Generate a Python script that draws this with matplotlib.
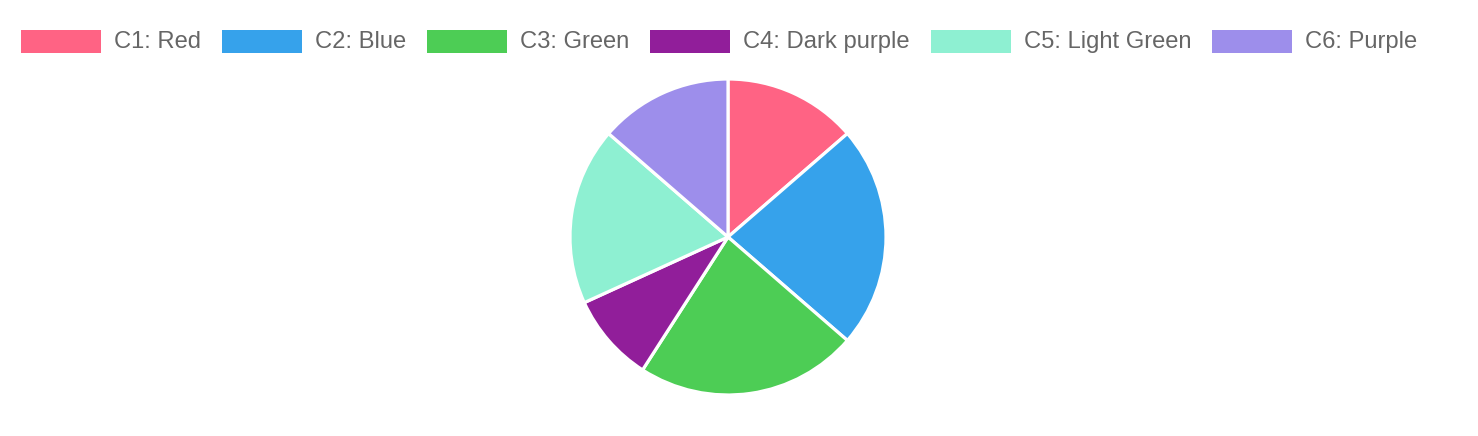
import matplotlib
matplotlib.use('Agg')
import matplotlib.pyplot as plt
from matplotlib.patches import Rectangle

labels = ['C1: Red', 'C2: Blue', 'C3: Green', 'C4: Dark purple', 'C5: Light Green', 'C6: Purple']
values = [3, 5, 5, 2, 4, 3]
colors = ['#ff6384', '#36a2eb', '#4dcd55', '#911e9a', '#8ef0d2', '#9d8eeb']

W, H = 1478, 436
fig = plt.figure(figsize=(W / 100, H / 100), dpi=100)
plt.rcParams['font.family'] = ['Liberation Sans', 'DejaVu Sans']

# pie, placed in pixel terms
cx, cy, r = 728, 237, 158
ax = fig.add_axes([(cx - r) / W, (H - cy - r) / H, 2 * r / W, 2 * r / H])
ax.pie(values, colors=colors, startangle=90, counterclock=False, radius=1,
       wedgeprops=dict(edgecolor='white', linewidth=2.3))
ax.set_xlim(-1, 1)
ax.set_ylim(-1, 1)
ax.set_aspect('equal')
ax.axis('off')

# legend along the top, laid out like chart.js
renderer = fig.canvas.get_renderer()
x = 21
box_w, box_h = 80, 23
top = 30
for lab, col in zip(labels, colors):
    fig.patches.append(Rectangle((x / W, (H - top - box_h) / H), box_w / W, box_h / H,
                                 transform=fig.transFigure, facecolor=col, edgecolor='none'))
    t = fig.text((x + box_w + 13) / W, (H - top - box_h / 2 - 0.5) / H, lab,
                 fontsize=17.1, color='#666666', va='center', ha='left')
    tw = t.get_window_extent(renderer).width
    x = x + box_w + 13 + tw + 21

fig.savefig('out.png', dpi=100)
